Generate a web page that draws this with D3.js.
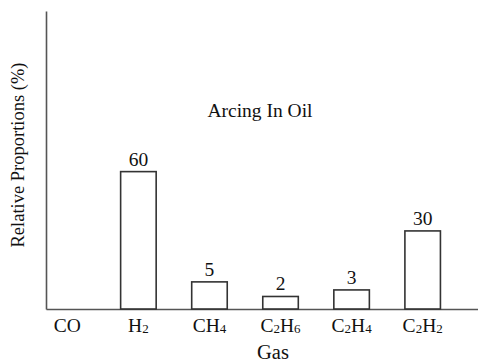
<!DOCTYPE html>
<html><head><meta charset="utf-8">
<script src="https://cdn.jsdelivr.net/npm/d3@7"></script>
<style>html,body{margin:0;padding:0;background:#fff;}svg{display:block;}</style>
</head><body>
<script>
// categories (digits are drawn as subscripts)
const gases = ["CO", "H2", "CH4", "C2H6", "C2H4", "C2H2"];
// value labels printed above the bars
const valueLabels = [null, 60, 5, 2, 3, 30];
// bar heights as drawn (percent of the unticked axis height)
const barLevels = [0, 46.1, 9.1, 4.2, 6.4, 26.2];
const title = "Arcing In Oil";
const xTitle = "Gas";
const yTitle = "Relative Proportions (%)";

const W = 478, H = 362;
const svg = d3.select("body").append("svg").attr("width", W).attr("height", H);
const font = "'Liberation Serif', 'Times New Roman', serif";

const y = d3.scaleLinear().domain([0, 100]).range([309, 11]);
const x = d3.scaleBand().domain(gases).range([31.8, 458.2]).paddingInner(0.5).paddingOuter(0.25);
const xFrame = d3.scaleLinear().domain([0, 1]).range([46, 478]);

const axisColor = "#555";
const gy = svg.append("g").attr("transform", "translate(46,0)").call(d3.axisLeft(y).ticks(0).tickSizeOuter(0));
const gx = svg.append("g").attr("transform", "translate(0,309)").call(d3.axisBottom(xFrame).ticks(0).tickSizeOuter(0));
[gy, gx].forEach(g => g.select(".domain").attr("stroke", axisColor).attr("stroke-width", 1.6));

const data = gases.map((g, i) => ({g, v: valueLabels[i], h: barLevels[i]}));

svg.append("g").selectAll("rect").data(data.filter(d => d.h > 0)).join("rect")
  .attr("x", d => x(d.g)).attr("width", x.bandwidth())
  .attr("y", d => y(d.h)).attr("height", d => y(0) - y(d.h))
  .attr("fill", "#fff").attr("stroke", "#333").attr("stroke-width", 1.6);

svg.append("g").selectAll("text").data(data.filter(d => d.v != null)).join("text")
  .attr("x", d => x(d.g) + x.bandwidth() / 2).attr("y", d => y(d.h) - 6)
  .attr("text-anchor", "middle").attr("font-family", font).attr("font-size", 19.5)
  .attr("fill", "#111").text(d => d.v);

// tick labels with subscripts
const lab = svg.append("g").selectAll("text").data(gases).join("text")
  .attr("x", d => x(d) + x.bandwidth() / 2).attr("y", 332)
  .attr("text-anchor", "middle").attr("font-family", font).attr("font-size", 19.5).attr("fill", "#111");
lab.each(function(d) {
  const t = d3.select(this);
  const parts = d.match(/[A-Za-z]+|\d+/g);
  let prevSub = false;
  parts.forEach(p => {
    if (/\d/.test(p)) { t.append("tspan").attr("font-size", 13).attr("dy", 1).text(p); prevSub = true; }
    else { t.append("tspan").attr("dy", prevSub ? -1 : 0).text(p); prevSub = false; }
  });
});

svg.append("text").attr("x", 260).attr("y", 117).attr("text-anchor", "middle")
  .attr("font-family", font).attr("font-size", 19.5).attr("fill", "#111").text(title);
svg.append("text").attr("x", 273).attr("y", 359).attr("text-anchor", "middle")
  .attr("font-family", font).attr("font-size", 20.5).attr("fill", "#111").text(xTitle);
svg.append("text").attr("transform", "translate(24,155) rotate(-90)").attr("text-anchor", "middle")
  .attr("font-family", font).attr("font-size", 18.5).attr("fill", "#111").text(yTitle);
</script>
</body></html>
